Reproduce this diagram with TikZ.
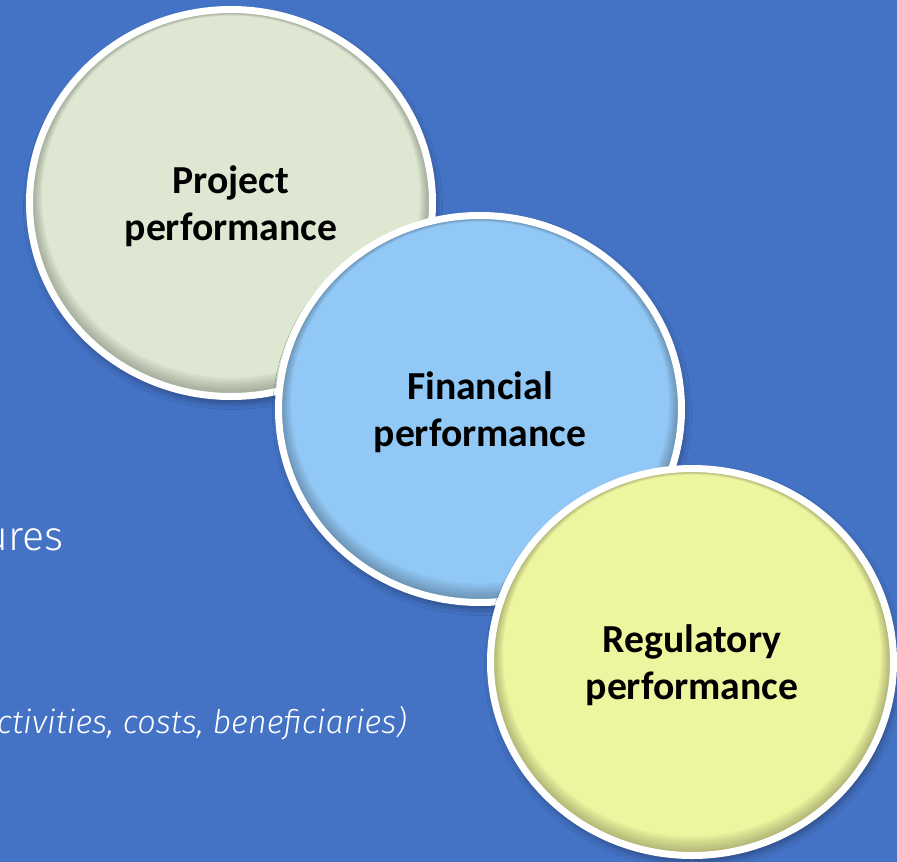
\documentclass[tikz,border=0pt]{standalone}
\usepackage{fontspec}
\setmainfont{Carlito}
\newfontfamily\thinfont{Fira Sans}[UprightFont={* Light}, ItalicFont={* Light Italic}]
\usetikzlibrary{shapes.geometric,shadows.blur}

\definecolor{bgblue}{RGB}{68,114,196}
\definecolor{projfill}{RGB}{221,231,209}
\definecolor{finfill}{RGB}{146,200,245}
\definecolor{regfill}{RGB}{238,245,159}

\tikzset{
  % soft darkening just inside the white rim, strongest at the bottom
  innershade/.style={
    path picture={
      \foreach \k in {1,...,7}{
        \fill[black, fill opacity=0.035, even odd rule]
          ([shift={(-30pt,-30pt)}]path picture bounding box.south west)
            rectangle ([shift={(30pt,30pt)}]path picture bounding box.north east)
          ([yshift={0.9pt*\k}]path picture bounding box.center)
            ellipse [x radius={198pt-1.3pt*\k}, y radius={190pt-1.3pt*\k}];
      }
    }
  },
  disc/.style={
    ellipse, draw=white, line width=7pt,
    minimum width=403pt, minimum height=387pt, inner sep=0pt,
    align=center, text=black, text depth=0pt,
    font=\bfseries\fontsize{39.7}{47}\selectfont,
    blur shadow={shadow xshift=2pt, shadow yshift=-5pt,
                 shadow blur radius=8pt, shadow opacity=45},
    innershade
  },
  sidetext/.style={anchor=base east, inner sep=0pt, text=white}
}

\begin{document}
\begin{tikzpicture}[x=1pt,y=-1pt]
  \useasboundingbox (0,0) rectangle (897,862);
  \clip (0,0) rectangle (897,862);
  \fill[bgblue] (0,0) rectangle (897,862);

  % text running in from the left edge
  \node[sidetext, font=\thinfont\fontsize{41}{48}\selectfont] (measures) at (64,550) {ures};
  \node[sidetext, font=\thinfont\itshape\fontsize{32.5}{38}\selectfont] (details) at (407,733)
    {ctivities, costs, beneficiaries)};

  % three overlapping discs, each one above the previous
  \node[disc, fill=projfill] (project) at (231,203) {Project\\performance};
  \node[disc, fill=finfill] (financial) at (480,409) {Financial\\performance};
  \node[disc, fill=regfill] (regulatory) at (692,662) {Regulatory\\performance};
\end{tikzpicture}
\end{document}
